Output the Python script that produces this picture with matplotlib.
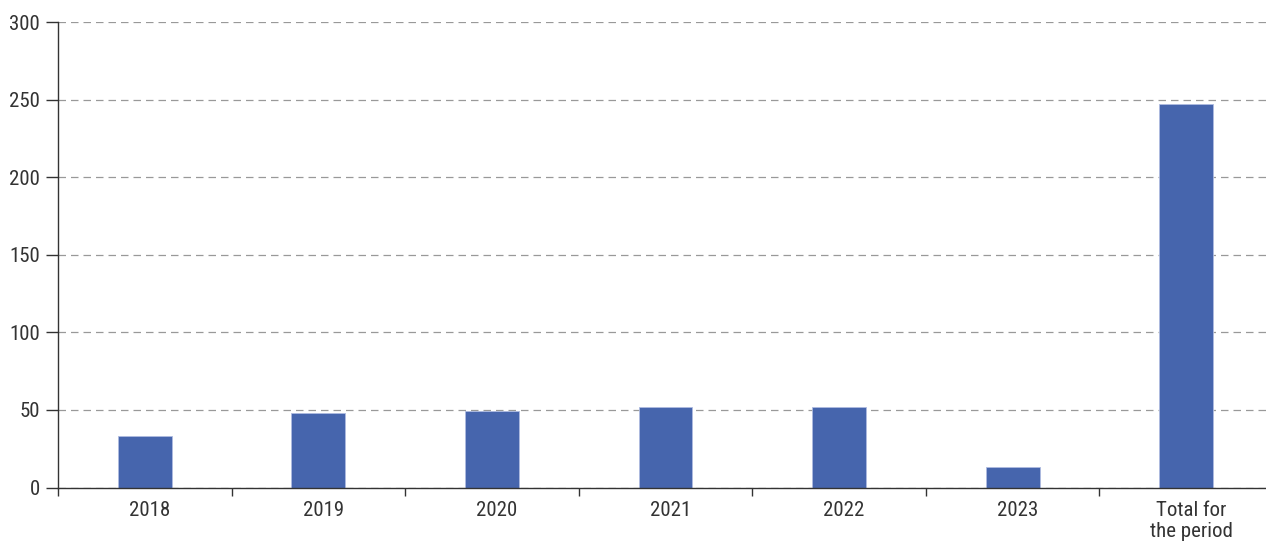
import matplotlib.pyplot as plt
import matplotlib.transforms as mtransforms
from matplotlib import font_manager

categories = ["2018", "2019", "2020", "2021", "2022", "2023", "Total for\nthe period"]
values = [33, 48, 49, 52, 52, 13, 247]
y_ticks = [0, 50, 100, 150, 200, 250, 300]

names = {f.name for f in font_manager.fontManager.ttflist}
fam = [n for n in ["Roboto Condensed", "Liberation Sans Narrow", "Roboto"] if n in names] + ["DejaVu Sans"]
plt.rcParams['font.family'] = fam

fig = plt.figure(figsize=(12.66, 5.42), dpi=100)
ax = fig.add_axes([58 / 1266, 54.5 / 542, 1215 / 1266, 465.5 / 542])

x = list(range(len(categories)))
ax.bar(x, values, width=0.31, color="#4665ad", edgecolor="#aebbe0", linewidth=0.6, zorder=3)

ax.set_xlim(-0.5, len(categories) - 0.5)
ax.set_ylim(0, 300)
ax.set_yticks(y_ticks)
ax.set_yticklabels([str(v) for v in y_ticks], fontsize=15, color="#333333")
ax.set_xticks(x)
ax.set_xticklabels(categories, fontsize=15, color="#333333", linespacing=1.1)
ax.tick_params(axis="x", length=0, pad=10)
ax.set_xticks([i - 0.5 for i in x], minor=True)
ax.tick_params(axis="x", which="minor", length=6, width=1, color="#333333")
ax.tick_params(axis="y", length=9, width=1, color="#333333", pad=4)

# labels sit slightly right of the bar centres in the original
shift = mtransforms.ScaledTranslation(5 / 100, 0, fig.dpi_scale_trans)
for lab in ax.get_xticklabels():
    lab.set_transform(lab.get_transform() + shift)

ax.grid(axis="y", linestyle=(0, (6, 4)), color="#999999", linewidth=0.9, zorder=0)
ax.set_axisbelow(True)

for s in ["top", "right"]:
    ax.spines[s].set_visible(False)
for s in ["left", "bottom"]:
    ax.spines[s].set_color("#333333")
    ax.spines[s].set_linewidth(1)
    ax.spines[s].set_zorder(4)

fig.savefig("out.png", dpi=100)
